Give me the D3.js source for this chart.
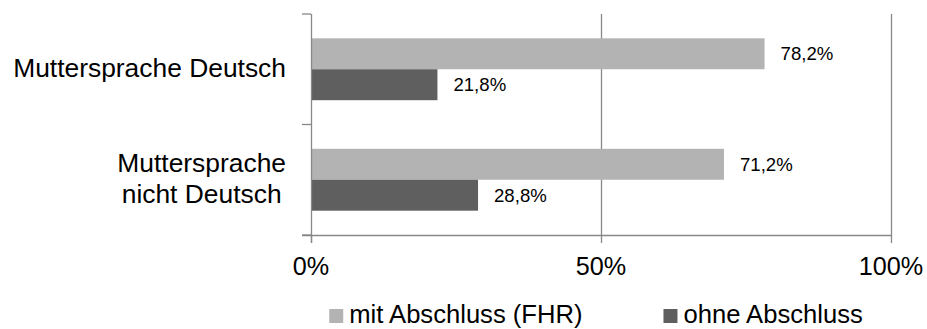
<!DOCTYPE html>
<html>
<head>
<meta charset="utf-8">
<script src="https://cdn.jsdelivr.net/npm/d3@7"></script>
<style>
  body { margin: 0; background: #fff; }
  text { font-family: Arial, "Liberation Sans", sans-serif; fill: #000; }
</style>
</head>
<body>
<svg id="chart" width="927" height="329"></svg>
<script>
// Abschluss nach Muttersprache

const categories = [['Muttersprache Deutsch'], ['Muttersprache', 'nicht Deutsch']];
const series = ['mit Abschluss (FHR)', 'ohne Abschluss'];
const mitAbschluss = [78.2, 71.2];
const ohneAbschluss = [21.8, 28.8];
const ticks = [0, 50, 100];

const colors = ['#b3b3b3', '#5f5f5f'];
const axisColor = '#888888';
const bigFont = '25.2px';

const svg = d3.select('#chart');

// Scales
const x = d3.scaleLinear()
  .domain([0, 100])
  .range([311, 891]);

const y = d3.scaleBand()
  .domain(d3.range(categories.length))
  .range([14, 235]);

const ySub = d3.scaleBand()
  .domain(series)
  .range([y.bandwidth() * 0.22, y.bandwidth() * 0.78]);

const data = categories.map((c, i) => ({
  idx: i,
  values: [mitAbschluss[i], ohneAbschluss[i]]
}));

// gridlines
svg.append('g')
  .selectAll('line')
  .data(ticks.slice(1))
  .join('line')
    .attr('x1', d => x(d) + 0.5)
    .attr('x2', d => x(d) + 0.5)
    .attr('y1', y.range()[0])
    .attr('y2', y.range()[1])
    .attr('stroke', axisColor)
    .attr('stroke-width', 1.3);

// bars
const group = svg.append('g')
  .selectAll('g')
  .data(data)
  .join('g')
    .attr('transform', d => `translate(0,${y(d.idx)})`);

group.selectAll('rect')
  .data(d => d.values.map((v, j) => ({ v, s: series[j], j })))
  .join('rect')
    .attr('x', x(0))
    .attr('y', d => ySub(d.s))
    .attr('width', d => x(d.v) - x(0))
    .attr('height', ySub.bandwidth())
    .attr('fill', d => colors[d.j]);

group.selectAll('text.val')
  .data(d => d.values.map((v, j) => ({ v, s: series[j] })))
  .join('text')
    .attr('class', 'val')
    .attr('x', d => x(d.v) + 16)
    .attr('y', d => ySub(d.s) + ySub.bandwidth() / 2)
    .attr('dy', '0.35em')
    .style('font-size', '18.6px')
    .text(d => d3.format('.1f')(d.v).replace('.', ',') + '%');

// y axis
const yAxis = svg.append('g');
yAxis.append('line')
  .attr('x1', x(0) + 0.5).attr('x2', x(0) + 0.5)
  .attr('y1', y.range()[0]).attr('y2', y.range()[1] + 8)
  .attr('stroke', axisColor).attr('stroke-width', 1.3);

yAxis.selectAll('line.tick')
  .data(d3.range(categories.length + 1))
  .join('line')
    .attr('class', 'tick')
    .attr('x1', x(0) - 9).attr('x2', x(0))
    .attr('y1', i => y.range()[0] + i * y.step())
    .attr('y2', i => y.range()[0] + i * y.step())
    .attr('stroke', axisColor).attr('stroke-width', 1.3);

// category labels (multi-line centred inside a right aligned block)
const labelRight = 286;
categories.forEach((lines, i) => {
  const t = svg.append('text')
    .style('font-size', '26.4px')
    .attr('text-anchor', 'middle');
  lines.forEach((ln, k) => {
    t.append('tspan').attr('y', y(i) + y.bandwidth() / 2 + (k - (lines.length - 1) / 2) * 31.6)
      .attr('dy', '0.3em').text(ln);
  });
  const w = d3.max(t.selectAll('tspan').nodes(), n => n.getComputedTextLength());
  t.selectAll('tspan').attr('x', labelRight - w / 2);
});

// x axis
const xAxis = svg.append('g');
xAxis.append('line')
  .attr('x1', x(0) - 9).attr('x2', x(100) + 1)
  .attr('y1', y.range()[1] + 0.5).attr('y2', y.range()[1] + 0.5)
  .attr('stroke', axisColor).attr('stroke-width', 1.3);

xAxis.selectAll('line.tick')
  .data(ticks)
  .join('line')
    .attr('class', 'tick')
    .attr('x1', d => x(d) + 0.5).attr('x2', d => x(d) + 0.5)
    .attr('y1', y.range()[1]).attr('y2', y.range()[1] + 8)
    .attr('stroke', axisColor).attr('stroke-width', 1.3);

xAxis.selectAll('text')
  .data(ticks)
  .join('text')
    .attr('x', d => x(d))
    .attr('y', 275)
    .attr('text-anchor', 'middle')
    .style('font-size', bigFont)
    .text(d => d + '%');

// legend
const legend = svg.append('g');
const items = legend.selectAll('g')
  .data(series)
  .join('g');

items.append('rect')
  .attr('width', 14).attr('height', 14)
  .attr('y', 309)
  .attr('fill', (d, i) => colors[i]);

items.append('text')
  .attr('x', 20)
  .attr('y', 323)
  .style('font-size', '25.6px')
  .text(d => d);

let pos = 0;
const offsets = [];
items.each(function () {
  offsets.push(pos);
  pos += 20 + d3.select(this).select('text').node().getComputedTextLength() + 81;
});
const total = pos - 81;
const start = 596 - total / 2;
items.attr('transform', (d, i) => `translate(${start + offsets[i]},0)`);
</script>
</body>
</html>
